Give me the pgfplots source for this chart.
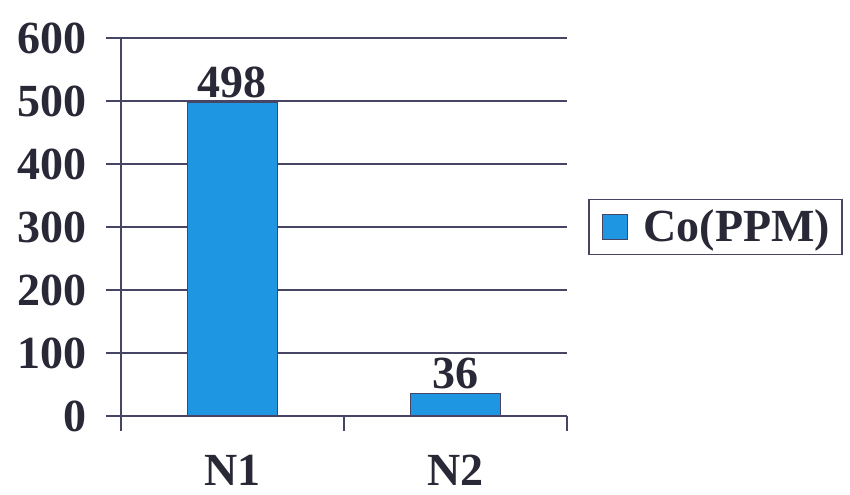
\documentclass[border=0pt]{standalone}
\usepackage{pgfplots}
\pgfplotsset{compat=1.18}
\usepackage{fontspec}
\setmainfont{Liberation Serif}

\definecolor{barblue}{RGB}{30,150,225}
\definecolor{lineink}{RGB}{70,70,100}
\definecolor{textink}{RGB}{40,40,55}

\newcommand{\chartfont}{\fontsize{23}{25}\selectfont\bfseries}

\begin{document}
\begin{tikzpicture}
\useasboundingbox (-60.5pt,-39pt) rectangle (364.5pt,208pt);
\begin{axis}[
  scale only axis,
  width=223pt, height=189pt,
  xmin=-0.5, xmax=1.5,
  ymin=0, ymax=600,
  ytick={0,100,...,600},
  xtick={-0.5,0.5,1.5},
  xticklabels={},
  extra x ticks={0,1},
  extra x tick labels={N1,N2},
  extra x tick style={major tick length=0pt, grid=none,
    xticklabel style={yshift=-16pt}},
  axis x line=bottom,
  axis y line=left,
  axis line style={-, lineink, line width=1pt},
  ymajorgrids,
  major grid style={lineink, line width=1pt},
  tick style={lineink, line width=1pt},
  tick align=outside,
  major tick length=7.5pt,
  /pgf/number format/assume math mode=true,
  tick label style={font=\chartfont, text=textink},
  yticklabel style={xshift=-6pt},
  ybar,
  bar width=45pt,
  nodes near coords,
  every node near coord/.append style={font=\chartfont, text=textink, yshift=-1.5pt},
  legend style={at={(1.047,0.5)}, anchor=west, draw=lineink, line width=0.8pt,
    font=\chartfont, text=textink, inner xsep=4pt, inner ysep=3pt},
  legend image code/.code={
    \fill[barblue, draw=lineink, line width=0.5pt]
      (3pt,-6.25pt) rectangle (15.5pt,6.25pt);
    \path[draw=none, fill=none] (0pt,-0.1pt) rectangle (21.5pt,0.1pt);},
  clip=false,
]
\addplot[fill=barblue, draw=lineink, line width=0.8pt] coordinates {(0,498) (1,36)};
\addlegendentry{Co(PPM)}
\end{axis}
\end{tikzpicture}
\end{document}
